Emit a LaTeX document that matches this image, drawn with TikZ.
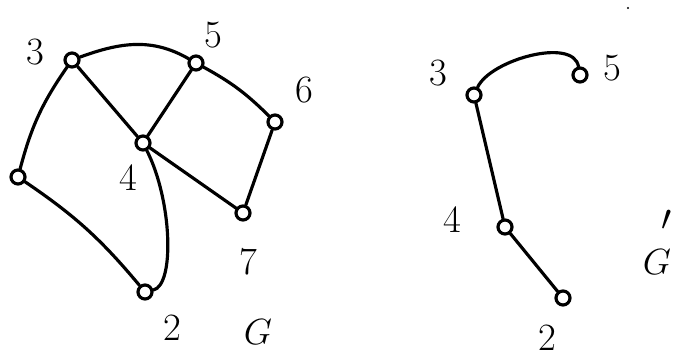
\documentclass[tikz,border=0pt]{standalone}
\usepackage{tikz}
\usetikzlibrary{positioning}

\begin{document}
\begin{tikzpicture}[
    x=0.02cm, y=-0.02cm,
    every node/.style={font=\fontsize{22}{22}\selectfont},
    vertex/.style={
        draw=black,
        circle,
        line width=1.8pt,
        fill=white,
        minimum size=0.28cm,
        inner sep=0pt
    },
    edge/.style={line width=1.8pt, line cap=round},
    lbl/.style={inner sep=0pt}
]

\useasboundingbox (0,0) rectangle (674,364);

% graph G
\node[vertex] (g3) at (72,60) {};
\node[vertex] (g5) at (196,63) {};
\node[vertex] (g6) at (275,122) {};
\node[vertex] (g4) at (143,143) {};
\node[vertex] (g7) at (243,213) {};
\node[vertex] (g1) at (18,177) {};
\node[vertex] (g2) at (145,292) {};

\node[lbl] (l3) at (35,52) {3};
\node[lbl] (l5) at (213,35) {5};
\node[lbl] (l6) at (304,90) {6};
\node[lbl] (l4) at (128,178) {4};
\node[lbl] (l7) at (248,262) {7};
\node[lbl] (l2) at (172,328) {2};
\node[lbl] (lg) at (258,332) {$G$};

\draw[edge] (g3) to[out=20, in=150] (g5);
\draw[edge] (g3) -- (g4);
\draw[edge] (g5) -- (g4);
\draw[edge] (g5) to[bend left=8] (g6);
\draw[edge] (g6) -- (g7);
\draw[edge] (g4) -- (g7);
\draw[edge] (g3) to[bend right=10] (g1);
\draw[edge] (g1) to[bend left=8] (g2);
\draw[edge] (g4) .. controls (172,200) and (175,285) .. (g2);

% graph G'
\node[vertex] (h3) at (474,95) {};
\node[vertex] (h5) at (580,75) {};
\node[vertex] (h4) at (505,227) {};
\node[vertex] (h2) at (563,298) {};

\node[lbl] (m3) at (438,73) {3};
\node[lbl] (m5) at (612,68) {5};
\node[lbl] (m4) at (452,220) {4};
\node[lbl] (m2) at (547,338) {2};
\node[lbl] (mg) at (657,262) {$G$};
\node[lbl] (mp) at (667,220) {$\prime$};

\draw[edge] (h3) to[out=65, in=100, looseness=0.75] (h5);
\draw[edge] (h3) -- (h4);
\draw[edge] (h4) -- (h2);

\fill (628,8) circle (1.2);

\end{tikzpicture}
\end{document}
